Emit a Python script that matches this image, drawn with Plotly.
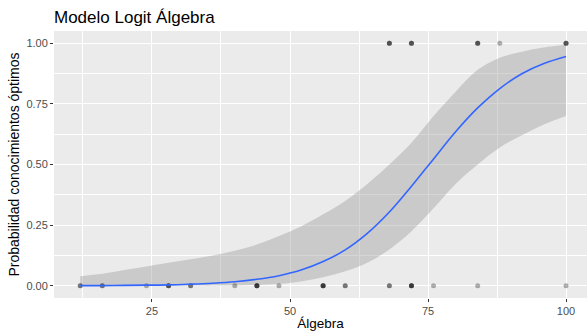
import plotly.graph_objects as go

# Observed data: score (Álgebra) and outcome, with number of overlapping cases
x0_scores = [12, 16, 24, 28, 32, 40, 44, 48, 56, 60, 68, 72, 76, 84, 100]
x0_counts = [2, 2, 1, 3, 2, 1, 4, 1, 4, 2, 2, 4, 1, 1, 1]
x1_scores = [68, 72, 84, 88, 100]
x1_counts = [3, 3, 3, 1, 3]

# Fitted logit curve and 95% band
fit_x = [12, 16, 20, 24, 28, 32, 36, 40, 44, 48, 52, 56, 60, 64, 68, 72, 76, 80, 84, 88, 92, 96, 100]
fit_p = [0.001, 0.001, 0.002, 0.003, 0.004, 0.007, 0.011, 0.017, 0.027, 0.042, 0.065, 0.10,
         0.148, 0.216, 0.304, 0.41, 0.523, 0.635, 0.733, 0.813, 0.874, 0.916, 0.945]
fit_hi = [0.04, 0.05, 0.065, 0.08, 0.095, 0.11, 0.125, 0.145, 0.17, 0.205, 0.245, 0.295,
          0.35, 0.42, 0.50, 0.59, 0.70, 0.80, 0.89, 0.94, 0.965, 0.982, 0.993]
fit_lo = [0.0, 0.0, 0.0, 0.0, 0.0, 0.001, 0.001, 0.002, 0.004, 0.008, 0.018, 0.035,
          0.06, 0.095, 0.15, 0.225, 0.32, 0.42, 0.50, 0.57, 0.62, 0.665, 0.70]

px, py = [], []
for s, c in zip(x0_scores, x0_counts):
    px += [s] * c
    py += [0] * c
for s, c in zip(x1_scores, x1_counts):
    px += [s] * c
    py += [1] * c

FONT = "Liberation Sans, Arial, sans-serif"

fig = go.Figure()
fig.add_trace(go.Scatter(x=fit_x, y=fit_hi, mode="lines", line=dict(width=0, shape="spline"),
                         hoverinfo="skip", showlegend=False))
fig.add_trace(go.Scatter(x=fit_x, y=fit_lo, mode="lines", line=dict(width=0, shape="spline"),
                         fill="tonexty", fillcolor="rgba(153,153,153,0.4)",
                         hoverinfo="skip", showlegend=False))
fig.add_trace(go.Scatter(x=px, y=py, mode="markers",
                         marker=dict(size=5, color="rgba(0,0,0,0.3)", line=dict(width=0)),
                         showlegend=False))
fig.add_trace(go.Scatter(x=fit_x, y=fit_p, mode="lines",
                         line=dict(color="#3366FF", width=1.6, shape="spline"),
                         showlegend=False))

fig.update_layout(
    width=587, height=335,
    margin=dict(l=54, r=0, t=31, b=37),
    paper_bgcolor="white", plot_bgcolor="#EBEBEB",
    font=dict(family=FONT, color="#4D4D4D", size=11),
    title=dict(text="Modelo Logit Álgebra", x=0, xref="paper", xanchor="left",
               y=1 - 17 / 335, yref="container", yanchor="middle",
               font=dict(size=17, color="black", family=FONT)),
    showlegend=False,
)
fig.update_xaxes(range=[7.25, 103.8], tick0=0, dtick=25, showgrid=True, gridcolor="white",
                 gridwidth=1.1, zeroline=False, ticks="outside", ticklen=3, tickcolor="#333333",
                 tickfont=dict(size=11, color="#4D4D4D"), automargin=False,
                 minor=dict(dtick=12.5, showgrid=True, gridcolor="white", gridwidth=0.5),
                 title=dict(text="Álgebra", font=dict(size=13.5, color="black"), standoff=2))
fig.update_yaxes(range=[-0.05, 1.05], tick0=0, dtick=0.25, tickformat=".2f", showgrid=True,
                 gridcolor="white", gridwidth=1.1, zeroline=False, ticks="outside", ticklen=3,
                 tickcolor="#333333", tickfont=dict(size=11, color="#4D4D4D"), automargin=False,
                 minor=dict(dtick=0.125, showgrid=True, gridcolor="white", gridwidth=0.5),
                 title=dict(text="Probabilidad conocimientos óptimos",
                            font=dict(size=14, color="black"), standoff=3))

fig.write_html("out.html", config={"displayModeBar": False},
               post_script="document.body.style.margin='0';document.body.style.padding='0';")
